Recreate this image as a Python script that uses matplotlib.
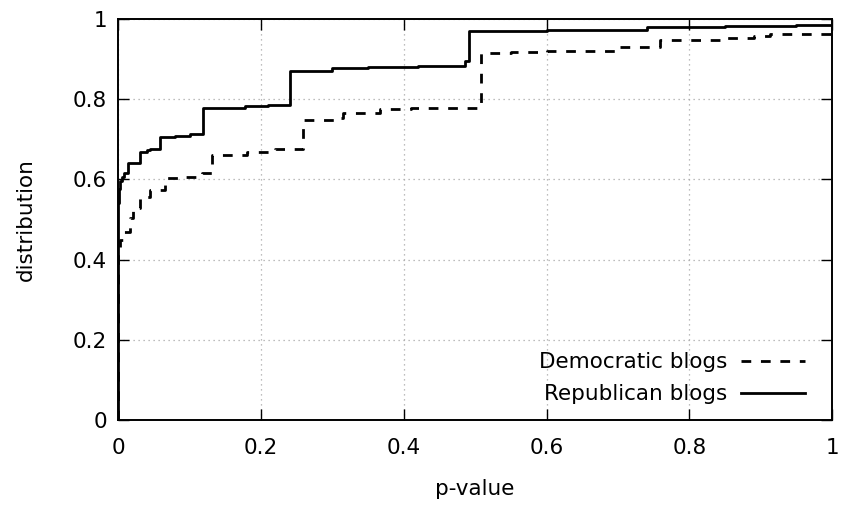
import numpy as np
import matplotlib.pyplot as plt

# cumulative distribution of p-values, read as step functions
rep_x = [0, 0, 0.0015, 0.003, 0.0045, 0.008, 0.014, 0.030, 0.040, 0.045, 0.058,
         0.080, 0.100, 0.118, 0.150, 0.178, 0.210, 0.241, 0.299, 0.350, 0.420,
         0.486, 0.492, 0.600, 0.741, 0.850, 0.950, 1.0]
rep_y = [0, 0.54, 0.575, 0.595, 0.605, 0.615, 0.642, 0.669, 0.672, 0.675, 0.706,
         0.709, 0.713, 0.777, 0.779, 0.783, 0.786, 0.871, 0.878, 0.880, 0.882,
         0.895, 0.970, 0.972, 0.980, 0.982, 0.984, 0.985]

dem_x = [0, 0, 0.002, 0.007, 0.016, 0.021, 0.030, 0.044, 0.0655, 0.090, 0.117,
         0.131, 0.180, 0.220, 0.2585, 0.310, 0.315, 0.367, 0.410, 0.508, 0.550,
         0.600, 0.696, 0.759, 0.843, 0.890, 0.913, 1.0]
dem_y = [0, 0.43, 0.45, 0.47, 0.504, 0.529, 0.555, 0.574, 0.604, 0.607, 0.615,
         0.661, 0.668, 0.675, 0.748, 0.752, 0.766, 0.775, 0.779, 0.914, 0.918,
         0.920, 0.930, 0.947, 0.951, 0.957, 0.962, 0.965]

ticks = [0, 0.2, 0.4, 0.6, 0.8, 1]
tick_labels = ['0', '0.2', '0.4', '0.6', '0.8', '1']

plt.rcParams['font.family'] = ['DejaVu Sans']
plt.rcParams['font.size'] = 15.5

fig = plt.figure(figsize=(8.44, 5.08), dpi=100)
ax = fig.add_axes([0.1402, 0.1726, 0.8456, 0.7904])

ax.plot(dem_x, dem_y, color='black', lw=2.0, drawstyle='steps-post',
        dashes=(3.5, 3.5), label='Democratic blogs')
ax.plot(rep_x, rep_y, color='black', lw=2.0, drawstyle='steps-post',
        label='Republican blogs')

ax.set_xlim(0, 1)
ax.set_ylim(0, 1)
ax.set_xticks(ticks)
ax.set_xticklabels(tick_labels)
ax.set_yticks(ticks)
ax.set_yticklabels(tick_labels)
ax.tick_params(direction='in', length=8, width=1, top=True, right=True)
ax.tick_params(axis='x', pad=13)
ax.tick_params(axis='y', pad=8)
ax.grid(True, color='#a8a8a8', linestyle=(0, (1, 3)), lw=0.9)
for s in ax.spines.values():
    s.set_linewidth(1.4)

ax.set_xlabel('p-value', labelpad=15)
ax.set_ylabel('distribution', labelpad=27)

ax.legend(loc='lower right', bbox_to_anchor=(0.985, 0.0), frameon=False,
          markerfirst=False, handlelength=3.0, handletextpad=0.6,
          labelspacing=0.55, borderaxespad=0.35)

fig.savefig('out.png', dpi=100)
